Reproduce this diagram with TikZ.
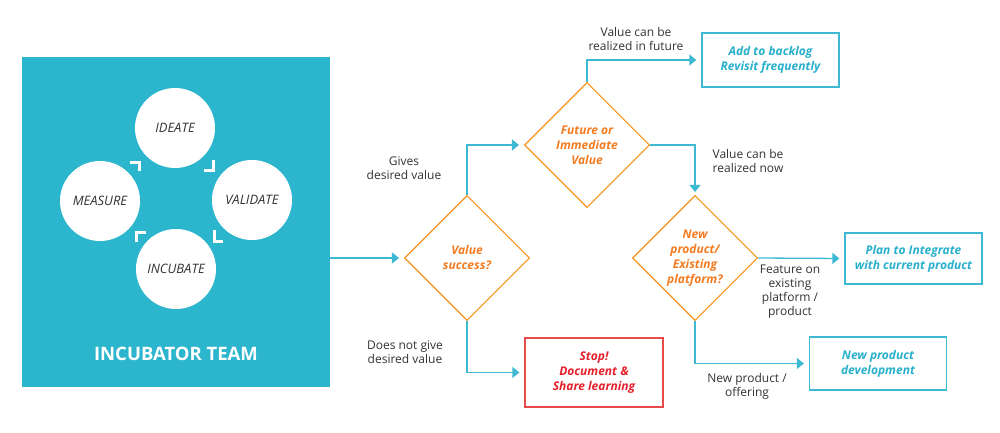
\documentclass[tikz,border=0pt]{standalone}
\usepackage{fontspec}
\setmainfont{Open Sans}
\usetikzlibrary{shapes.geometric,arrows.meta}
\definecolor{teal1}{HTML}{2CB6CE}
\definecolor{tealline}{HTML}{3DB9D3}
\definecolor{tealtxt}{HTML}{27AFCB}
\definecolor{orng}{HTML}{F7941D}
\definecolor{orngtxt}{HTML}{F47B20}
\definecolor{redtxt}{HTML}{E5202A}
\definecolor{redline}{HTML}{E84A4A}
\definecolor{txt}{HTML}{333333}
\begin{document}
\begin{tikzpicture}[x=1pt,y=-1pt,
  conn/.style={draw=tealline, line width=1.3pt, -{Triangle[length=7pt,width=11pt]}, shorten >=5pt},
  dec/.style={diamond, draw=orng, line width=1.1pt, minimum width=125pt, minimum height=125pt, inner sep=0pt, align=center, text=orngtxt, font=\fontsize{12}{15}\selectfont\bfseries\itshape},
  outbox/.style={draw=tealline, line width=1.3pt, minimum width=137pt, minimum height=53pt, align=center, text=tealtxt, font=\fontsize{12}{15}\selectfont\bfseries\itshape},
  stopbox/.style={draw=redline, line width=1.3pt, minimum width=138pt, minimum height=69pt, align=center, text=redtxt, font=\fontsize{12}{15}\selectfont\bfseries\itshape},
  lbl/.style={align=center, text=txt, font=\fontsize{12}{14}\selectfont},
  phase/.style={circle, fill=white, minimum size=80pt, inner sep=0pt, font=\fontsize{13}{15}\selectfont\itshape, text=txt},
  chev/.style={draw=white, line width=3pt, line join=miter}]
\useasboundingbox (0,0) rectangle (1000,433);
% team panel
\node (team) [fill=teal1, minimum width=308pt, minimum height=330pt, inner sep=0pt] at (176,222) {};
\node (ideate) [phase] at (175,128) {IDEATE};
\node (validate) [phase] at (252,200) {VALIDATE};
\node (incubate) [phase] at (176,269) {INCUBATE};
\node (measure) [phase] at (100,201) {MEASURE};
\draw[chev] (130,162) -- (139,162) -- (139,171);
\draw[chev] (213,160) -- (213,170) -- (204,170);
\draw[chev] (214,230) -- (214,241) -- (223,241);
\draw[chev] (146,232) -- (136,232) -- (136,242);
\node (teamlbl) [text=white, font=\fontsize{18.5}{21}\selectfont\bfseries] at (176,354) {INCUBATOR TEAM};
% decisions
\node (d1) [dec] at (467,258) {Value\\success?};
\node (d2) [dec] at (587,145) {Future or\\Immediate\\Value};
\node (d3) [dec] at (695,258) {New\\product/\\Existing\\platform?};
% outcomes
\node (backlog) [outbox, minimum height=54pt] at (770.5,60) {Add to backlog\\Revisit frequently};
\node (plan) [outbox, minimum height=51pt] at (913.5,258.5) {Plan to Integrate\\with current product};
\node (newdev) [outbox] at (878,363.5) {New product\\development};
\node (stop) [stopbox] at (594,372.5) {Stop!\\Document \&\\Share learning};
% connectors
\draw[conn] (team.east |- d1.west) -- (d1.west);
\draw[conn] (d1.north) |- (d2.west);
\draw[conn] (d1.south) |- (stop.west);
\draw[conn] (d2.north) |- (backlog.west);
\draw[conn, shorten >=3pt] (d2.east) -| (d3.north);
\draw[conn] (d3.east) -- (plan.west);
\draw[conn] (d3.south) |- (newdev.west);
% labels
\node (l1) [lbl] at (404,168) {Gives\\desired value};
\node (l2) [lbl] at (405,352) {Does not give\\desired value};
\node (l3) [lbl] at (636,39) {Value can be\\realized in future};
\node (l4) [lbl] at (748,161) {Value can be\\realized now};
\node (l5) [lbl] at (790,291.5) {Feature on\\existing\\platform /\\product};
\node (l6) [lbl] at (747,386.5) {New product /\\offering};
\end{tikzpicture}
\end{document}
